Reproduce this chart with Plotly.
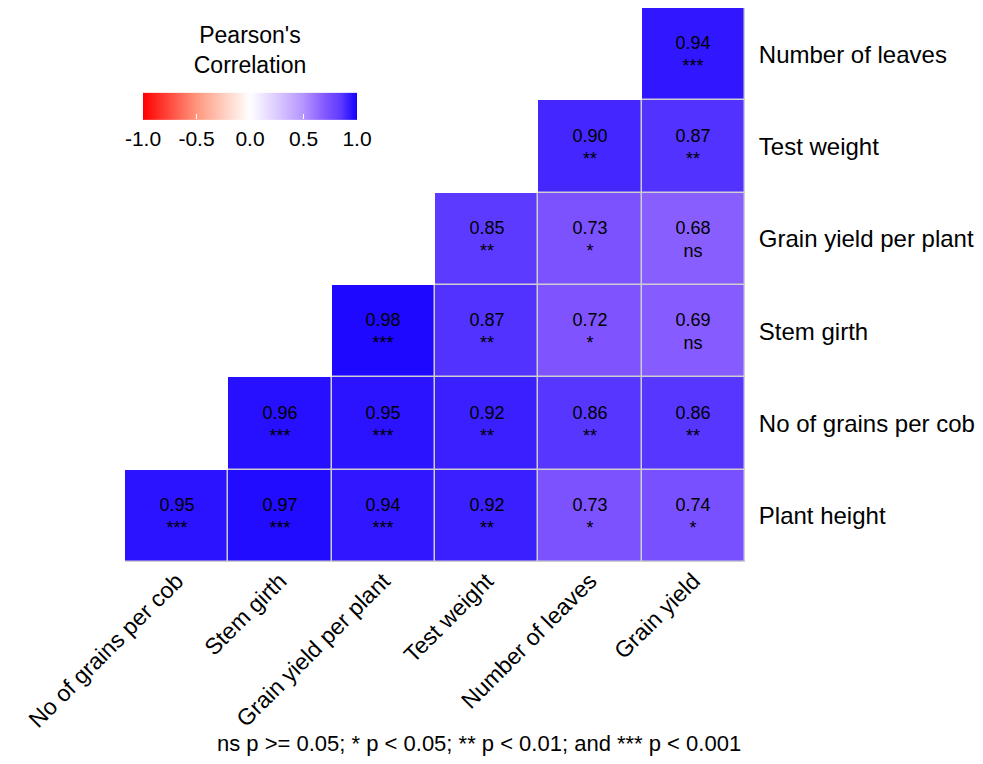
import numpy as np
import plotly.graph_objects as go

# Variables on each axis
x_vars = ["No of grains per cob", "Stem girth", "Grain yield per plant",
          "Test weight", "Number of leaves", "Grain yield"]
y_vars = ["Plant height", "No of grains per cob", "Stem girth",
          "Grain yield per plant", "Test weight", "Number of leaves"]

# Correlation values (rows follow y_vars, columns follow x_vars)
r_plant_height = [0.95, 0.97, 0.94, 0.92, 0.73, 0.74]
r_grains_cob = [None, 0.96, 0.95, 0.92, 0.86, 0.86]
r_stem_girth = [None, None, 0.98, 0.87, 0.72, 0.69]
r_grain_yield_plant = [None, None, None, 0.85, 0.73, 0.68]
r_test_weight = [None, None, None, None, 0.90, 0.87]
r_leaves = [None, None, None, None, None, 0.94]

# Significance labels
s_plant_height = ["***", "***", "***", "**", "*", "*"]
s_grains_cob = ["", "***", "***", "**", "**", "**"]
s_stem_girth = ["", "", "***", "**", "*", "ns"]
s_grain_yield_plant = ["", "", "", "**", "*", "ns"]
s_test_weight = ["", "", "", "", "**", "**"]
s_leaves = ["", "", "", "", "", "***"]

rows = [r_plant_height, r_grains_cob, r_stem_girth,
        r_grain_yield_plant, r_test_weight, r_leaves]
sig_rows = [s_plant_height, s_grains_cob, s_stem_girth,
            s_grain_yield_plant, s_test_weight, s_leaves]

z = np.array([[np.nan if v is None else v for v in r] for r in rows])
text = [[("" if v is None else f"{v:.2f}<br>{s}") for v, s in zip(r, sr)]
        for r, sr in zip(rows, sig_rows)]
mask = np.where(np.isnan(z), np.nan, 1.0)

colorscale = [
    [0.0, "rgb(255,0,0)"],
    [0.25, "rgb(255,150,125)"],
    [0.375, "rgb(255,205,190)"],
    [0.5, "rgb(255,255,255)"],
    [0.625, "rgb(220,203,255)"],
    [0.75, "rgb(180,148,255)"],
    [0.85, "rgb(132,88,255)"],
    [0.925, "rgb(92,58,255)"],
    [1.0, "rgb(20,0,255)"],
]

fig = go.Figure()

# grey layer underneath so that gaps read as light grey cell borders
fig.add_trace(go.Heatmap(
    x=x_vars, y=y_vars, z=mask,
    colorscale=[[0, "rgb(205,205,210)"], [1, "rgb(205,205,210)"]],
    showscale=False, hoverinfo="skip",
))

fig.add_trace(go.Heatmap(
    x=x_vars, y=y_vars, z=z,
    zmin=-1, zmax=1,
    colorscale=colorscale,
    xgap=1.5, ygap=1.5,
    hoverongaps=False,
    text=text, texttemplate="%{text}",
    textfont=dict(size=18, color="black", family="Liberation Sans"),
    colorbar=dict(
        orientation="h",
        x=0.2016, xanchor="center",
        y=0.841, yanchor="middle",
        len=234, lenmode="pixels",
        thickness=27,
        outlinewidth=0,
        tickvals=[-1, -0.5, 0, 0.5, 1],
        ticktext=["-1.0", "-0.5", "0.0", "0.5", "1.0"],
        ticks="inside", ticklen=5, tickcolor="white",
        tickfont=dict(size=21, color="black"),
        title=dict(text="Pearson's<br>Correlation", side="top",
                   font=dict(size=23, color="black")),
    ),
))

fig.add_annotation(
    text="ns p >= 0.05; * p < 0.05; ** p < 0.01; and *** p < 0.001",
    xref="paper", yref="paper", x=0.571, y=-0.354,
    showarrow=False, font=dict(size=22, color="black"),
)

fig.update_xaxes(
    tickangle=-45, tickfont=dict(size=23, color="black"),
    showgrid=False, zeroline=False, ticks="", showline=False,
)
fig.update_yaxes(
    side="right", tickfont=dict(size=24, color="black"),
    showgrid=False, zeroline=False, ticks="outside", ticklen=8,
    tickcolor="white", showline=False,
)

fig.update_layout(
    width=983, height=764,
    margin=dict(l=117, r=246, t=0, b=210, autoexpand=False),
    plot_bgcolor="white", paper_bgcolor="white",
    font=dict(family="Liberation Sans", color="black"),
)

fig.write_html("out.html")
